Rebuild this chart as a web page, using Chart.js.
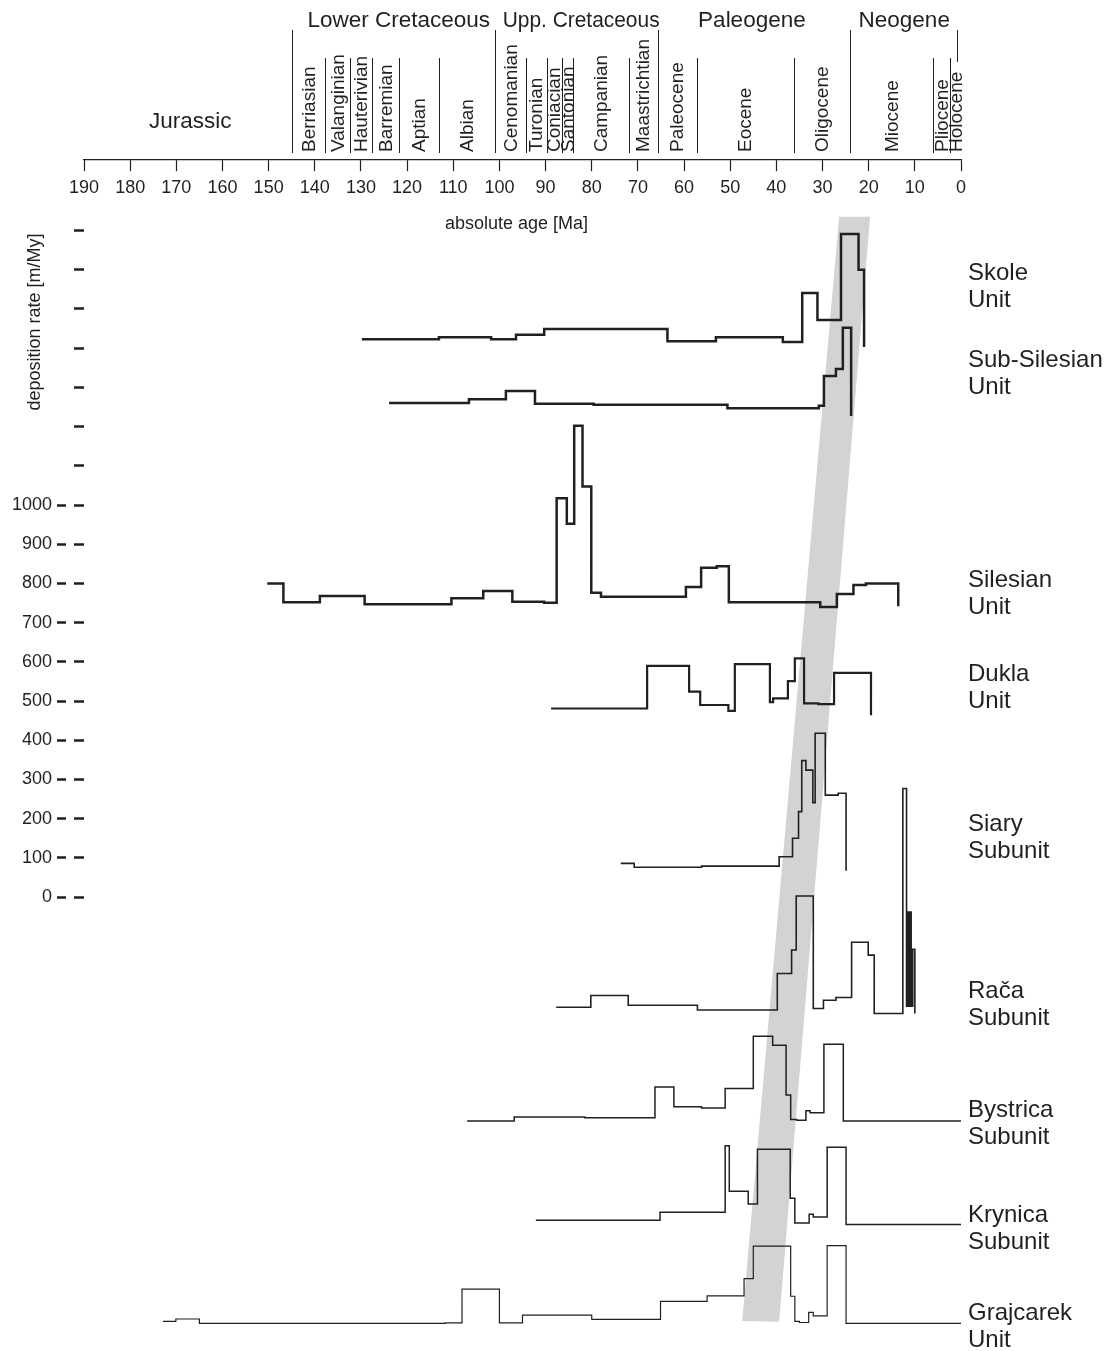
<!DOCTYPE html>
<html>
<head>
<meta charset="utf-8">
<script src="https://cdn.jsdelivr.net/npm/chart.js@4.4.0/dist/chart.umd.min.js"></script>
<style>
  html, body { margin: 0; padding: 0; background: #fff; }
  #wrap { width: 1109px; height: 1351px; position: relative; }
</style>
</head>
<body>
<div id="wrap"><canvas id="rateChart"></canvas></div>
<script>
const ink = '#231f20';
const family = '"Liberation Sans", Arial, Helvetica, sans-serif';

// axis ticks
const ageTicks = [190, 180, 170, 160, 150, 140, 130, 120, 110, 100, 90, 80, 70, 60, 50, 40, 30, 20, 10, 0];
const rateTicks = [0, 100, 200, 300, 400, 500, 600, 700, 800, 900, 1000, 1100, 1200, 1300, 1400, 1500, 1600, 1700];
const rateLabelMax = 1000;

// stratigraphic scale (Ma)
const stageBounds = [145, 137.7, 132.4, 127.6, 121.8, 113, 101, 94.3, 89.8, 86.5, 84.1, 72, 65.7, 57.3, 36.2, 24, 6.1, 2.4, 0];
const eraBounds = [145, 101, 65.7, 24];
const stageNames = ['Berriasian', 'Valanginian', 'Hauterivian', 'Barremian', 'Aptian', 'Albian',
  'Cenomanian', 'Turonian', 'Coniacian', 'Santonian', 'Campanian', 'Maastrichtian',
  'Paleocene', 'Eocene', 'Oligocene', 'Miocene', 'Pliocene', 'Holocene'];
const eraNames = ['Jurassic', 'Lower Cretaceous', 'Upp. Cretaceous', 'Paleogene', 'Neogene'];
const eraLabelAge = [167, 121.8, 82.3, 45.3, 12.3];
const eraSpan = [[190, 145], [145, 101], [101, 65.7], [65.7, 24], [24, 0]];

// units (curves are offset on the common rate axis)
const unitNames = ['Skole', 'Sub-Silesian', 'Silesian', 'Dukla', 'Siary', 'Rača', 'Bystrica', 'Krynica', 'Grajcarek'];
const unitSecondLine = ['Unit', 'Unit', 'Unit', 'Unit', 'Subunit', 'Subunit', 'Subunit', 'Subunit', 'Unit'];
const unitLabelLevel = [1592, 1370, 809, 569, 186, -240, -543, -811, -1061];

const skoleAge = [129.8, 113.1, 101.8, 96.4, 90.3, 63.6, 53.1, 38.6, 34.4, 31.1, 26.0, 22.2, 21.0];
const skoleRate = [1423, 1428, 1423, 1434, 1449, 1418, 1428, 1416, 1541, 1472, 1691, 1600, 1403];

const subSilesianAge = [123.9, 106.6, 98.6, 92.3, 79.6, 50.6, 30.8, 29.7, 27.1, 25.6, 23.8];
const subSilesianRate = [1260, 1270, 1291, 1258, 1256, 1247, 1253, 1329, 1347, 1452, 1227];

const silesianAge = [150.3, 146.8, 138.9, 129.2, 110.4, 103.5, 97.2, 90.3, 87.6, 85.4, 83.8, 82.0, 80.1, 78.0,
  59.6, 56.3, 52.9, 50.3, 30.5, 26.9, 23.3, 20.6, 13.6];
const silesianRate = [800, 752, 768, 747, 762, 781, 753, 751, 1017, 952, 1202, 1047, 776, 766,
  791, 840, 844, 752, 740, 773, 796, 800, 742];

const duklaAge = [88.8, 68.0, 58.9, 56.5, 50.4, 49.0, 41.4, 40.7, 37.5, 36.0, 34.0, 30.9, 27.5, 19.5];
const duklaRate = [481, 590, 524, 490, 475, 594, 497, 507, 551, 609, 494, 492, 572, 464];

const siaryAge = [73.7, 70.8, 56.2, 39.4, 36.5, 35.2, 34.5, 33.6, 32.1, 31.6, 29.4, 26.6, 24.9];
const siaryRate = [86, 76, 79, 103, 150, 218, 348, 324, 241, 418, 260, 265, 67];

const racaAge = [87.7, 80.2, 72.1, 57.1, 39.8, 36.7, 35.7, 32.0, 29.8, 27.1, 23.7, 20.1, 18.8,
  12.6, 11.8, 11.5, 11.25, 11.1, 10.8, 10.45, 10.0];
const racaRate = [-281, -251, -276, -288, -195, -135, 3, -284, -263, -256, -115, -148, -297,
  277, -278, -38, -278, -38, -278, -133, -297];

const bystricaAge = [107.0, 96.8, 81.5, 66.3, 62.2, 56.2, 51.1, 45.0, 40.8, 37.9, 36.9, 35.6, 33.6, 32.7, 29.7, 25.5, 0];
const bystricaRate = [-571, -561, -563, -484, -535, -538, -488, -355, -378, -505, -567, -569, -545, -550, -375, -571, -571];

const krynicaAge = [92.1, 65.2, 51.1, 50.2, 46.1, 44.1, 37.0, 36.0, 32.9, 32.0, 29.0, 24.9, 0];
const krynicaRate = [-824, -804, -634, -750, -783, -643, -768, -831, -809, -816, -638, -835, -835];

const grajcarekAge = [172.9, 170.1, 165.0, 111.8, 108.1, 100.0, 95.0, 80.0, 65.1, 55.0, 47.0, 45.0,
  36.9, 36.0, 35.0, 33.0, 32.0, 29.0, 24.9, 0];
const grajcarekRate = [-1082, -1076, -1087, -1086, -1000, -1086, -1066, -1077, -1031, -1017, -973, -890,
  -1018, -1082, -1085, -1059, -1068, -889, -1087, -1087];

// shaded diachronous band
const bandAge = [26.4, 19.7, 39.4, 47.4];
const bandRate = [1735, 1735, -1083, -1081];

function stepSeries(label, ages, rates, width) {
    return {
        label: label,
        data: ages.map((a, i) => ({x: a, y: rates[i]})),
        borderColor: ink,
        borderWidth: width,
        stepped: 'before',
        pointRadius: 0,
        fill: false,
        borderJoinStyle: 'miter',
        order: 1
    };
}

const stratPlugin = {
    id: 'strat',
    afterDraw(chart) {
        const ctx = chart.ctx;
        const xs = chart.scales.x;
        const ys = chart.scales.y;
        const area = chart.chartArea;
        ctx.save();
        ctx.strokeStyle = ink;
        ctx.fillStyle = ink;
        ctx.lineWidth = 1;

        // boundaries above the age axis
        stageBounds.forEach(a => {
            if (a === 0) return;
            const px = Math.round(xs.getPixelForValue(a)) + 0.5;
            const top = eraBounds.includes(a) ? area.top - 130 : area.top - 102;
            ctx.beginPath();
            ctx.moveTo(px, top);
            ctx.lineTo(px, area.top - 7);
            ctx.stroke();
        });
        const px0 = Math.round(xs.getPixelForValue(0.8)) + 0.5;
        ctx.beginPath();
        ctx.moveTo(px0, area.top - 130);
        ctx.lineTo(px0, area.top - 98);
        ctx.stroke();

        // stage names, rotated
        ctx.font = '19px ' + family;
        ctx.textAlign = 'left';
        ctx.textBaseline = 'middle';
        stageNames.forEach((name, i) => {
            const mid = (stageBounds[i] + stageBounds[i + 1]) / 2;
            const px = xs.getPixelForValue(mid);
            ctx.save();
            ctx.translate(px + 1, area.top - 8);
            ctx.rotate(-Math.PI / 2);
            ctx.fillText(name, 0, 0);
            ctx.restore();
        });

        // era names
        ctx.font = '22.5px ' + family;
        ctx.textAlign = 'center';
        eraNames.forEach((name, i) => {
            const px = xs.getPixelForValue(eraLabelAge[i]);
            const py = i === 0 ? area.top - 38 : area.top - 139;
            const span = Math.abs(xs.getPixelForValue(eraSpan[i][1]) - xs.getPixelForValue(eraSpan[i][0])) - 6;
            ctx.fillText(name, px, py, span);
        });

        // axis titles
        ctx.font = '18px ' + family;
        ctx.fillText('absolute age [Ma]', (area.left + area.right) / 2 - 6, area.top + 64);
        ctx.save();
        ctx.translate(35, 322);
        ctx.rotate(-Math.PI / 2);
        ctx.fillText('deposition rate [m/My]', 0, 0);
        ctx.restore();

        // unit names
        ctx.font = '24px ' + family;
        ctx.textAlign = 'left';
        unitNames.forEach((name, i) => {
            const py = ys.getPixelForValue(unitLabelLevel[i]);
            ctx.fillText(name, area.right + 7, py);
            ctx.fillText(unitSecondLine[i], area.right + 7, py + 27);
        });
        ctx.restore();
    }
};

const ctxEl = document.getElementById('rateChart');
const rateChart = new Chart(ctxEl, {
    type: 'line',
    data: {
        datasets: [
            stepSeries('Skole Unit', skoleAge, skoleRate, 2.5),
            stepSeries('Sub-Silesian Unit', subSilesianAge, subSilesianRate, 2.5),
            stepSeries('Silesian Unit', silesianAge, silesianRate, 2.5),
            stepSeries('Dukla Unit', duklaAge, duklaRate, 2.2),
            stepSeries('Siary Subunit', siaryAge, siaryRate, 1.6),
            stepSeries('Rača Subunit', racaAge, racaRate, 1.6),
            stepSeries('Bystrica Subunit', bystricaAge, bystricaRate, 1.5),
            stepSeries('Krynica Subunit', krynicaAge, krynicaRate, 1.5),
            stepSeries('Grajcarek Unit', grajcarekAge, grajcarekRate, 1.2),
            {
                label: 'band',
                data: bandAge.map((a, i) => ({x: a, y: bandRate[i]})),
                fill: 'shape',
                backgroundColor: '#d1d3d4',
                borderColor: 'rgba(0,0,0,0)',
                borderWidth: 0,
                pointRadius: 0,
                order: 5
            }
        ]
    },
    options: {
        responsive: true,
        maintainAspectRatio: false,
        animation: false,
        layout: {
            padding: {top: 160, right: 148, bottom: 3, left: 0}
        },
        plugins: {
            legend: {display: false},
            tooltip: {enabled: false}
        },
        scales: {
            x: {
                type: 'linear',
                reverse: true,
                min: 0,
                max: 190,
                position: {y: 1880},
                afterBuildTicks: scale => {
                    scale.ticks = ageTicks.map(v => ({value: v}));
                },
                grid: {
                    display: true,
                    drawOnChartArea: false,
                    tickLength: 11,
                    tickColor: ink,
                    tickWidth: 1.2
                },
                border: {display: true, color: ink, width: 1.2},
                ticks: {
                    color: ink,
                    font: {family: family, size: 18},
                    padding: 6,
                    maxRotation: 0,
                    autoSkip: false
                }
            },
            y: {
                type: 'linear',
                min: -1150,
                max: 1880,
                afterBuildTicks: scale => {
                    scale.ticks = rateTicks.map(v => ({value: v}));
                },
                afterFit: scale => {
                    scale.width = 84;
                    scale.paddingTop = 0;
                    scale.paddingBottom = 0;
                },
                grid: {
                    display: true,
                    drawOnChartArea: false,
                    tickLength: 27,
                    tickWidth: 2.5,
                    tickColor: ink,
                    tickBorderDash: c => (c.tick && c.tick.value <= rateLabelMax) ? [9, 8, 10, 20] : [0, 17, 10, 20]
                },
                border: {display: false},
                ticks: {
                    color: ink,
                    font: {family: family, size: 18},
                    padding: 5,
                    autoSkip: false,
                    callback: v => v <= rateLabelMax ? v : ''
                }
            }
        }
    },
    plugins: [stratPlugin]
});
</script>
</body>
</html>
